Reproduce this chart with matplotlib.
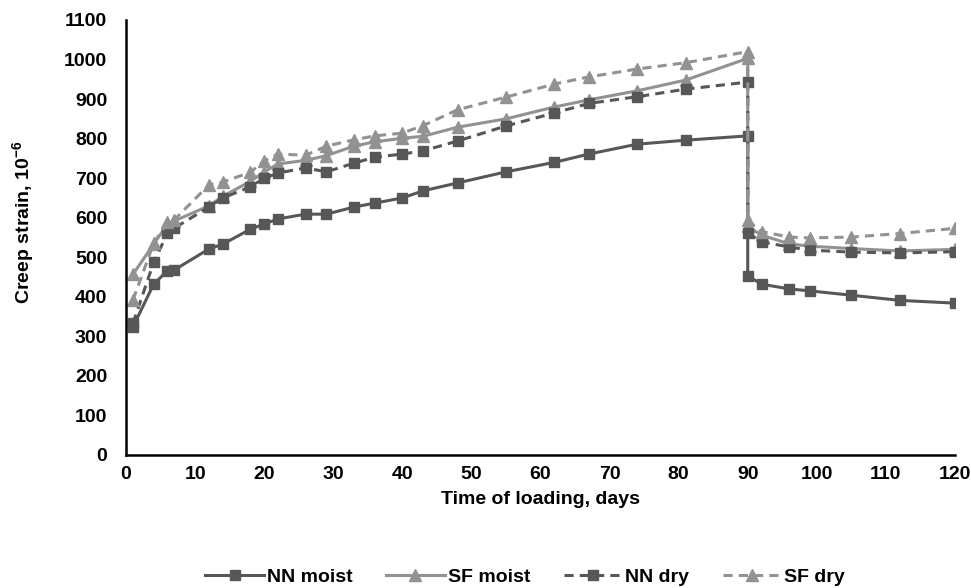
import matplotlib
matplotlib.use("Agg")
import matplotlib.pyplot as plt

plt.rcParams["font.family"] = ["Liberation Sans", "DejaVu Sans"]
plt.rcParams["font.weight"] = "bold"
plt.rcParams["mathtext.fontset"] = "custom"
plt.rcParams["mathtext.rm"] = "Liberation Sans:bold"
plt.rcParams["mathtext.bf"] = "Liberation Sans:bold"

# days of loading (unloading at day 90)
days = [1, 4, 6, 7, 12, 14, 18, 20, 22, 26, 29, 33, 36, 40, 43, 48, 55, 62, 67, 74, 81,
        90, 90, 92, 96, 99, 105, 112, 120]

nn_moist = [324, 432, 466, 468, 521, 533, 571, 584, 597, 609, 609, 627, 637, 650, 668,
            688, 716, 740, 761, 786, 796, 807, 453, 432, 420, 415, 404, 391, 384]
sf_moist = [457, 533, 584, 592, 630, 654, 692, 716, 736, 745, 757, 781, 792, 801, 806,
            829, 850, 880, 898, 921, 948, 1003, 578, 556, 534, 528, 522, 516, 520]
nn_dry = [333, 487, 561, 574, 627, 650, 678, 700, 713, 726, 716, 738, 753, 761, 769,
          794, 832, 865, 889, 906, 925, 943, 561, 539, 526, 518, 513, 511, 514]
sf_dry = [392, 535, 589, 595, 683, 690, 715, 744, 761, 758, 781, 797, 807, 814, 833,
          873, 905, 938, 956, 976, 992, 1020, 593, 565, 551, 549, 551, 560, 573]

dark = "#575757"
light = "#929292"
fs = 14

fig = plt.figure(figsize=(9.71, 5.88), dpi=100)
ax = fig.add_axes([0.1298, 0.2262, 0.8537, 0.7398])

ax.plot(days, nn_moist, color=dark, lw=2.2, marker="s", ms=7, label="NN moist")
ax.plot(days, sf_moist, color=light, lw=2.2, marker="^", ms=8, label="SF moist")
ax.plot(days, nn_dry, color=dark, lw=2.2, ls=(0, (3, 2)), marker="s", ms=7, label="NN dry")
ax.plot(days, sf_dry, color=light, lw=2.2, ls=(0, (3, 2)), marker="^", ms=8, label="SF dry")

ax.set_xlim(0, 120)
ax.set_ylim(0, 1100)
ax.set_xticks(range(0, 121, 10))
ax.set_yticks(range(0, 1101, 100))
ax.tick_params(length=0, labelsize=fs, colors="black")
ax.tick_params(axis="y", pad=13.5)
ax.tick_params(axis="x", pad=8)
for lab in ax.get_xticklabels() + ax.get_yticklabels():
    lab.set_fontweight("bold")

for s in ["top", "right"]:
    ax.spines[s].set_visible(False)
for s in ["left", "bottom"]:
    ax.spines[s].set_linewidth(1.8)
    ax.spines[s].set_color("black")

ax.set_xlabel("Time of loading, days", fontsize=fs, fontweight="bold")
ax.set_ylabel(r"Creep strain, 10$^{-6}$", fontsize=fs, fontweight="bold")
ax.xaxis.set_label_coords(0.4994, -0.082)
ax.yaxis.set_label_coords(-0.108, 0.536)

leg = fig.legend(loc="center", bbox_to_anchor=(0.541, 0.019), ncol=4, frameon=False,
                 fontsize=fs, handlelength=3.0, handletextpad=0.15, columnspacing=1.75)
for t in leg.get_texts():
    t.set_fontweight("bold")

fig.savefig("out.png", dpi=100)
